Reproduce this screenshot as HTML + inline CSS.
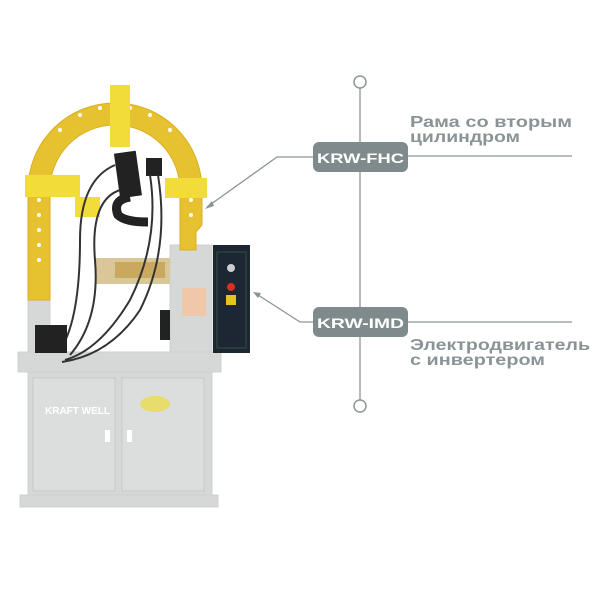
<!DOCTYPE html>
<html><head><meta charset="utf-8"><style>
html,body{margin:0;padding:0;background:#fff;width:600px;height:600px;overflow:hidden}
svg{display:block}
text{font-family:"Liberation Sans","DejaVu Sans",sans-serif;font-weight:bold}
</style></head><body>
<svg width="600" height="600" viewBox="0 0 600 600" xmlns="http://www.w3.org/2000/svg">
<g fill="#d6d8d8" stroke="#cfd1d1">
<rect x="18" y="352" width="203" height="20"/>
<rect x="28" y="372" width="184" height="125"/>
<rect x="20" y="495" width="198" height="12"/>
<rect x="28" y="290" width="22" height="62"/>
<rect x="170" y="245" width="42" height="107"/>
</g>
<g fill="#dcdede" stroke="#c8caca">
<rect x="33" y="378" width="82" height="113"/>
<rect x="122" y="378" width="82" height="113"/>
</g>
<text x="45" y="414" font-size="10" fill="#fff">KRAFT WELL</text>
<ellipse cx="155" cy="404" rx="15" ry="8" fill="#e8dc6a"/>
<rect x="105" y="430" width="5" height="12" fill="#fff"/>
<rect x="127" y="430" width="5" height="12" fill="#fff"/>
<rect x="95" y="258" width="75" height="26" fill="#d9c79a"/>
<rect x="115" y="262" width="50" height="16" fill="#c9a860"/>
<rect x="182" y="288" width="24" height="28" fill="#f0c8a8"/>
<rect x="160" y="310" width="10" height="30" fill="#222"/>
<path d="M28,300 L28,190 A87,87 0 0 1 202,190 L202,225 L196,232 L196,250 L180,250 L180,190 A65,65 0 0 0 50,190 L50,300 Z" fill="#e6c230" stroke="#d8b020"/>
<g fill="#fff">
<circle cx="39" cy="200" r="2"/><circle cx="39" cy="215" r="2"/><circle cx="39" cy="230" r="2"/><circle cx="39" cy="245" r="2"/><circle cx="39" cy="260" r="2"/>
<circle cx="191" cy="200" r="2"/><circle cx="191" cy="215" r="2"/>
<circle cx="60" cy="130" r="2"/><circle cx="80" cy="115" r="2"/><circle cx="100" cy="108" r="2"/><circle cx="130" cy="108" r="2"/><circle cx="150" cy="115" r="2"/><circle cx="170" cy="130" r="2"/>
</g>
<rect x="110" y="85" width="20" height="62" fill="#f2dc3a"/>
<rect x="25" y="175" width="55" height="22" fill="#f2dc3a"/>
<rect x="165" y="178" width="42" height="20" fill="#f2dc3a"/>
<rect x="75" y="197" width="25" height="20" fill="#f2dc3a"/>
<rect x="117" y="152" width="22" height="45" fill="#222" transform="rotate(-8 128 175)"/>
<path d="M130,197 Q112,200 118,215 Q125,222 148,222" stroke="#222" stroke-width="9" fill="none"/>
<rect x="146" y="158" width="16" height="18" fill="#222"/>
<path d="M115,165 Q80,180 80,240 Q80,320 60,350 M120,190 Q90,200 95,260 Q100,320 70,355 M150,175 Q160,240 130,300 Q100,350 65,360 M158,175 Q170,250 140,310 Q110,355 62,362" stroke="#333" stroke-width="2" fill="none"/>
<rect x="35" y="325" width="32" height="28" fill="#222"/>
<rect x="213" y="245" width="37" height="108" fill="#1c2733"/>
<rect x="217" y="252" width="29" height="96" fill="none" stroke="#3a5a40" stroke-width="0.8"/>
<circle cx="231" cy="268" r="4" fill="#ccc"/>
<circle cx="231" cy="287" r="4" fill="#d83020"/>
<rect x="226" y="295" width="10" height="10" fill="#e8c020"/>
<g stroke="#8c9496" stroke-width="1.3" fill="none">
<line x1="360" y1="88" x2="360" y2="400"/>
<line x1="408" y1="156" x2="572" y2="156"/>
<line x1="408" y1="322" x2="572" y2="322"/>
<polyline points="313,157 277,157 207,207"/>
<polyline points="313,322 300,322 255,293"/>
</g>
<polygon points="205,209 212,201 214,206" fill="#8c9496"/>
<polygon points="253,292 261,293 258,298" fill="#8c9496"/>
<circle cx="360" cy="82" r="6" fill="#fff" stroke="#8c9496" stroke-width="1.5"/>
<circle cx="360" cy="406" r="6" fill="#fff" stroke="#8c9496" stroke-width="1.5"/>
<rect x="313" y="142" width="95" height="30" rx="6" fill="#7f8a8c"/>
<rect x="313" y="307" width="95" height="30" rx="6" fill="#7f8a8c"/>
<text x="317" y="163" font-size="14" fill="#fff" textLength="87" lengthAdjust="spacingAndGlyphs">KRW-FHC</text>
<text x="317" y="328" font-size="14" fill="#fff" textLength="87" lengthAdjust="spacingAndGlyphs">KRW-IMD</text>
<g font-size="16" fill="#8a9396">
<text x="410" y="127" textLength="162" lengthAdjust="spacingAndGlyphs">Рама со вторым</text>
<text x="410" y="142" textLength="110" lengthAdjust="spacingAndGlyphs">цилиндром</text>
<text x="410" y="350" textLength="180" lengthAdjust="spacingAndGlyphs">Электродвигатель</text>
<text x="410" y="365" textLength="135" lengthAdjust="spacingAndGlyphs">с инвертером</text>
</g>
</svg>
</body></html>
